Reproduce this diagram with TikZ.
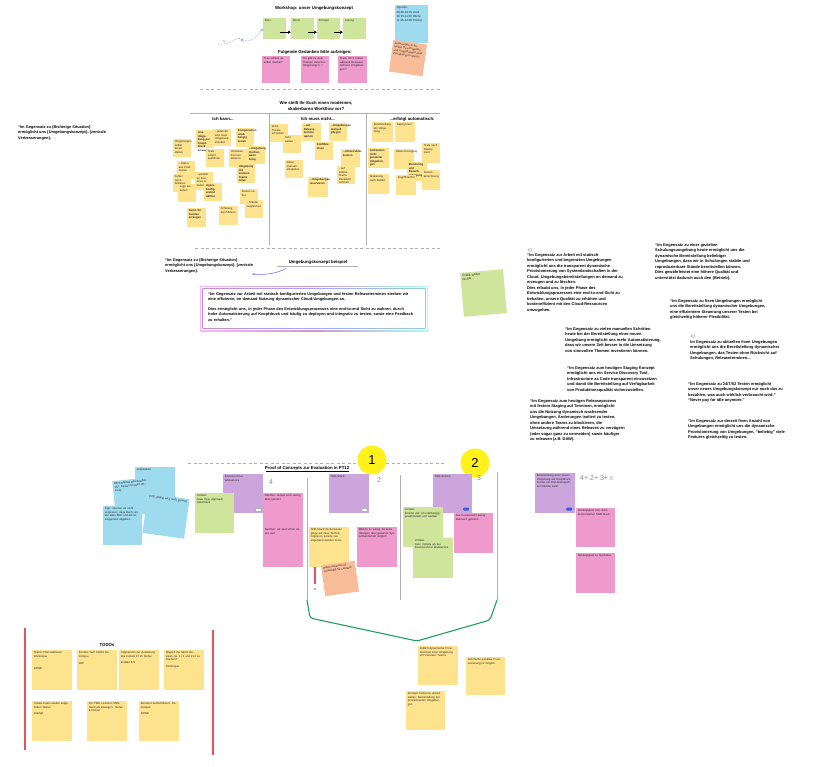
\documentclass[tikz,border=0pt]{standalone}
\usepackage{fontspec}
\setmainfont{Liberation Sans}
\usetikzlibrary{arrows.meta,calc}
\definecolor{yel}{HTML}{FDE38E}
\definecolor{grn}{HTML}{CFE59B}
\definecolor{pnk}{HTML}{EE9ACC}
\definecolor{prp}{HTML}{CCA5DD}
\definecolor{blu}{HTML}{9FDBEF}
\definecolor{org}{HTML}{F8BD98}
\definecolor{circ}{HTML}{FFF21A}
\definecolor{redl}{HTML}{E8505B}
\definecolor{grnl}{HTML}{1BA35B}
\definecolor{gryl}{HTML}{B0B0B0}
\definecolor{tagb}{HTML}{3B5BDB}
\tikzset{
  stickybox/.style={rectangle,draw=none,inner sep=0pt},
  stickytext/.style={inner sep=1.8pt,align=left,font=\fontsize{2.8}{3.5}\selectfont,text=black!85},
  quote/.style={font=\bfseries\fontsize{4.0}{5.5}\selectfont,align=left,inner sep=0pt},
  head/.style={font=\bfseries\fontsize{4.3}{5.4}\selectfont,align=center,inner sep=0pt},
  sep/.style={draw=gryl,line width=0.8pt},
  dsep/.style={draw=gryl,line width=0.7pt,dash pattern=on 3pt off 2.5pt},
  bigarrow/.style={-{Stealth[length=3pt,width=3.5pt]},line width=1.1pt,black},
  hand/.style={font=\fontsize{7}{7}\selectfont,text=black!45,inner sep=0pt}
}
% #1 rotation, #2 name, #3 colour, #4 x, #5 y (top left), #6 w, #7 h, #8 text
\newcommand\stk[8][0]{%
  \pgfmathsetmacro\stkw{#6-3.6}%
  \begin{scope}[shift={(#4+#6/2,#5+#7/2)},rotate=#1,transform shape]
    \node[stickybox,fill=#3,minimum width=#6pt,minimum height=#7pt] (#2) at (0,0) {};
    \node[stickytext,text width=\stkw pt,anchor=north west] at (#2.north west) {#8};
  \end{scope}}
\begin{document}
\begin{tikzpicture}[x=1pt,y=-1pt]
\useasboundingbox[fill=white] (0,0) rectangle (813,767);

% ================= TOP: workshop =================
\node[head] (wtitle) at (314,8) {Workshop: unser Umgebungskonzept};
\stk{g1}{grn}{263}{18}{23}{21}{Ziele}
\stk{g2}{grn}{291}{18}{23}{21}{Werte}
\stk{g3}{grn}{317}{18}{23}{21}{Konzept}
\stk{g4}{grn}{343}{18}{23}{21}{Lösung}
\draw[bigarrow] ($(g1.south east)+(-6,-7)$) -- ($(g2.south west)+(0,-7)$);
\draw[bigarrow] ($(g2.south east)+(-6,-7)$) -- ($(g3.south west)+(0,-7)$);
\draw[bigarrow] ($(g3.south east)+(-6,-7)$) -- ($(g4.south west)+(0,-7)$);
\coordinate (doodle) at (218,44);
\draw[blue!45,line width=0.6pt,densely dotted,-{Stealth[length=3pt]}] (doodle) .. controls (232,46) and (236,34) .. (243,40) .. controls (250,44) and (258,36) .. (g1.west);
\node[blue!50,font=\fontsize{4}{4}\selectfont] at (224,42) {\textbf{\^{}}};
\node[blue!50,font=\bfseries\fontsize{6}{6}\selectfont] at (242,41) {\^{}};
\stk{agenda}{blu}{395}{5}{33}{38}{\fontsize{2.9}{3.8}\selectfont Agenda:\\[1.2pt]09:00-10:15 Ziele\\10:15-11:00 Werte\\11:15-12:00 Prinzip}
\stk[-8]{orgnote}{org}{391}{42}{34}{32}{Änderungen in aktuellen Dev-Projekten und Umgebungen über Zuordnung im Shop?}
\node[head] (ftitle) at (315,52) {Folgende Gedanken bitte aufzeigen:};
\stk{p1}{pnk}{262}{56}{28}{27}{“Das solltest du selbst machen”}
\stk{p2}{pnk}{301}{56}{28}{27}{“Es gibt zu viele Themen zwischen Umgebungen...”}
\stk{p3}{pnk}{338}{56}{29}{27}{“Kann ich X haben während Releases mehrere Umgebungen?”}
\draw[dsep] (200,89) -- (442,89);

% ================= MIDDLE: workflow =================
\node[head] (mtitle) at (316,106) {Wie stellt Ihr Euch einen modernen,\\skalierbaren Workflow vor?};
\draw[sep] (190,113) -- (440,113);
\draw[sep] (269,113) -- (269,245);
\draw[sep] (366,113) -- (366,245);
\node[head] (h1) at (223,119) {Ich kann...};
\node[head] (h2) at (318,119) {Ich muss nicht...};
\node[head] (h3) at (412,119) {...erfolgt automatisch.};
% column 1
\stk{c1}{yel}{173}{139}{18}{18}{Umgebungen selbst bereitstellen}
\stk{c2}{yel}{196}{130}{18}{18}{\textbf{eine Umgebung per Knopfdruck erzeugen}}
\stk{c3}{yel}{213}{129}{18}{17}{...jederzeit eine neue Umgebung erstellen}
\stk{c4}{yel}{236}{128}{18}{19}{\textbf{Komponenten unabhängig testen}}
\stk{c5}{yel}{206}{149}{18}{18}{Tests isoliert ausführen}
\stk{c6}{yel}{229}{149}{18}{18}{Versionen frei kombinieren}
\stk{c7}{yel}{247}{146}{18}{18}{\textbf{...Umgebung löschen, wenn fertig}}
\stk{c8}{yel}{177}{161}{18}{18}{...Daten aus Prod. nutzen}
\stk{c9}{yel}{173}{174}{18}{18}{Fehler reproduzieren}
\stk{c10}{yel}{195}{172}{18}{18}{...parallel an Features arbeiten}
\stk{c11}{yel}{178}{184}{18}{18}{Logs einsehen}
\stk{c12}{yel}{204}{183}{18}{18}{\textbf{eigene Konfiguration wählen}}
\stk{c13}{yel}{237}{164}{18}{19}{\textbf{Umgebung mit anderen Teams teilen}}
\stk{c14}{yel}{240}{189}{18}{15}{Kosten sehen}
\stk{c15}{yel}{245}{200}{18}{18}{...Stände vergleichen}
\stk{c16}{yel}{187}{208}{19}{19}{\textbf{Demo für Kunden erzeugen}}
\stk{c17}{yel}{219}{206}{19}{19}{Schulung durchführen}
% column 2
\stk{d1}{yel}{270}{124}{18}{18}{keine Tickets schreiben}
\stk{d2}{yel}{283}{135}{18}{18}{nicht warten}
\stk{d3}{yel}{302}{123}{19}{18}{\textbf{...auf Release\-termine warten}}
\stk{d4}{yel}{329}{123}{18}{18}{\textbf{...Umgebungen manuell pflegen}}
\stk{d5}{yel}{315}{142}{18}{18}{\textbf{Konflikte lösen}}
\stk{d6}{yel}{341}{149}{19}{18}{\textbf{...Infrastruktur kennen}}
\stk{d7}{yel}{285}{160}{18}{18}{Daten manuell einspielen}
\stk{d8}{yel}{337}{166}{18}{18}{...auf andere Teams Rücksicht nehmen}
\stk{d9}{yel}{308}{177}{20}{20}{\textbf{...Umgebungen reservieren}}
% column 3
\stk{e1}{yel}{372}{122}{21}{20}{Bereitstellung der Umgebung}
\stk{e2}{yel}{395}{122}{20}{20}{Deployment}
\stk{e3}{yel}{368}{148}{21}{20}{\textbf{Aufräumen nicht genutzter Umgebungen}}
\stk{e4}{yel}{394}{149}{20}{20}{Datenversorgung}
\stk{e5}{yel}{422}{143}{18}{20}{Tests nach Deployment}
\stk{e6}{yel}{407}{162}{20}{19}{\textbf{Monitoring und Benach\-richtigung}}
\stk{e7}{yel}{368}{174}{21}{20}{Skalierung nach Bedarf}
\stk{e8}{yel}{396}{175}{20}{20}{Zugriffsrechte}
\stk{e9}{yel}{422}{170}{18}{20}{Kosten\-abrechnung}
\node[quote,font=\bfseries\fontsize{3.9}{5.5}\selectfont,anchor=north west] (lq1) at (18,125) {“Im Gegensatz zu \{Bisherige Situation\}\\ermöglicht uns \{Umgebungskonzept\}, \{zentrale\\Verbesserungen\}.};
\draw[dsep] (195,248) -- (442,248);

% ================= example =================
\node[quote,font=\bfseries\fontsize{3.9}{5.5}\selectfont,anchor=north west] (lq2) at (165,258) {“Im Gegensatz zu \{Bisherige Situation\}\\ermöglicht uns \{Umgebungskonzept\}, \{zentrale\\Verbesserungen\}.};
\node[head] (ubsp) at (318,262) {Umgebungskonzept beispiel};
\draw[draw=gryl,line width=0.8pt] (277,266) -- (358,266);
\coordinate (arrEnd) at (252,274);
\draw[blue!55,line width=0.6pt,-{Stealth[length=3pt]}] (286,268.5) .. controls (276,274) and (264,275) .. (arrEnd);
\shade[left color=magenta!30,right color=cyan!35,middle color=violet!40] (200,286) rectangle (428,331);
\fill[white] (200.9,286.9) rectangle (427.1,330.1);
\shade[left color=violet!45,right color=teal!40,middle color=blue!35] (202.3,288.3) rectangle (425.7,328.7);
\fill[white] (203,289) rectangle (425,328);
\node[quote,font=\bfseries\fontsize{3.9}{5.5}\selectfont,anchor=north west,text width=205pt] (rq) at (208,292) {“Im Gegensatz zur Arbeit mit statisch konfigurierten Umgebungen und festen Releaseterminen streben wir eine effiziente, on demand Nutzung dynamischer Cloud-Umgebungen an.\\[4pt]Dies ermöglicht uns, in jeder Phase des Entwicklungsprozesses eine end-to-end Sicht zu wahren, durch hohe Automatisierung auf Knopfdruck und häufig zu deployen und integrativ zu testen, sowie eine Feedback zu erhalten.”};
\stk[5]{gnote}{grn}{462}{271}{43}{44}{\fontsize{3.2}{4}\selectfont Grafik weiter\\rechts...}

% ================= quotes right =================
\node[draw=black!40,fill=black!8,rounded corners=0.8pt,minimum width=4pt,minimum height=2.5pt,inner sep=0pt] (ic1) at (530,250) {};
\node[quote,anchor=north west] (q1) at (527,253) {“Im Gegensatz zur Arbeit mit statisch\\konfigurierten und begrenzten Umgebungen\\ermöglicht uns die transparent dynamische\\Provisionierung von Systemlandschaften in der\\Cloud, Umgebungsbereitstellungen on demand zu\\erzeugen und zu löschen.\\Dies erlaubt uns, in jeder Phase des\\Entwicklungsprozesses eine end-to-end Sicht zu\\behalten, unsere Qualität zu erhöhen und\\kosteneffizient mit den Cloud-Ressourcen\\umzugehen.};
\node[quote,anchor=north west] (q2) at (565,327) {“Im Gegensatz zu vielen manuellen Schritten\\heute bei der Bereitstellung einer neuen\\Umgebung ermöglicht uns mehr Automatisierung,\\dass wir unsere Zeit besser in die Umsetzung\\von sinnvollen Themen investieren können.};
\node[quote,anchor=north west] (q3) at (567,366) {“Im Gegensatz zum heutigen Staging Konzept\\ermöglicht uns ein Service Discovery Tool,\\Infrastructure as Code transparent einzusetzen\\und damit die Bereitstellung auf Verfügbarkeit\\von Produktionsqualität sicherzustellen.};
\node[quote,anchor=north west] (q4) at (530,399) {“Im Gegensatz zum heutigen Releaseprozess\\mit festem Staging auf Terminen, ermöglicht\\uns die Nutzung dynamisch wachsender\\Umgebungen, Änderungen isoliert zu testen,\\ohne andere Teams zu blockieren, die\\Umsetzung während eines Releases zu verzögern\\(oder sogar ganz zu vermeiden) sowie häufiger\\zu releasen (z.B. DAW).};
\node[quote,anchor=north west] (q5) at (655,243) {“Im Gegensatz zu einer gezielten\\Schulungsumgebung heute ermöglicht uns die\\dynamische Bereitstellung beliebiger\\Umgebungen, dass wir in Schulungen stabile und\\reproduzierbare Stände bereitstellen können.\\Dies gewährleistet eine höhere Qualität und\\unterstützt dadurch auch den \{Betrieb\}.};
\node[quote,anchor=north west] (q6) at (670,299) {“Im Gegensatz zu fixen Umgebungen ermöglicht\\uns die Bereitstellung dynamischer Umgebungen,\\eine effizientere Steuerung unserer Testen bei\\gleichzeitig höherer Flexibilität.};
\node[draw=black!40,fill=black!8,rounded corners=0.8pt,minimum width=4pt,minimum height=2.5pt,inner sep=0pt] (ic2) at (693,336) {};
\node[quote,anchor=north west] (q7) at (690,340) {Im Gegensatz zu aktuellen fixen Umgebungen\\ermöglicht uns die Bereitstellung dynamischer\\Umgebungen, das Testen ohne Rücksicht auf\\Schulungen, Releaseterminen...};
\node[quote,anchor=north west] (q8) at (688,382) {“Im Gegensatz zu 24/7/52 Testen ermöglicht\\unser neues Umgebungskonzept nur noch das zu\\bezahlen, was auch wirklich verbraucht wird.”\\“Never pay for idle anymore.”};
\node[quote,anchor=north west] (q9) at (688,419) {“Im Gegensatz zur derzeit fixen Anzahl von\\Umgebungen ermöglicht uns die dynamische\\Provisionierung von Umgebungen, “beliebig” viele\\Features gleichzeitig zu testen.};

% ================= BOTTOM: PoC =================
\draw[dsep] (188,463) -- (445,463);
\node[circle,fill=circ,minimum size=29pt,inner sep=0pt,font=\fontsize{13}{13}\selectfont] (n1) at (372,460) {1};
\node[circle,fill=circ,minimum size=29pt,inner sep=0pt,font=\fontsize{13}{13}\selectfont] (n2) at (475,463) {2};
\node[head] (ptitle) at (307,468) {Proof of Concepts zur Evaluation in PT12};
\draw[black,line width=0.5pt] (266,471.5) -- (349,471.5);
\draw[sep] (307,478) -- (307,600);
\draw[sep] (400,475) -- (400,600);
\draw[sep] (497,472) -- (497,600);
\draw[grnl,line width=1.1pt,rounded corners=3pt] (307,600) -- (310,618) -- (417,641) -- (490,620) -- (497,600);

\stk{k1}{prp}{223}{474}{40}{39}{Kostenrechner\\Webservice}
\node[fill=white,draw=black!30,minimum width=6pt,minimum height=3pt,inner sep=0pt] (t1) at ($(k1.south east)+(-5,-4)$) {};
\node[hand] (num4) at (271,482) {4};
\stk{k2}{prp}{329}{474}{40}{39}{SNB-Stack}
\node[fill=white,draw=black!30,minimum width=6pt,minimum height=3pt,inner sep=0pt] (t2) at ($(k2.south east)+(-5,-4)$) {};
\node[hand] (num2) at (379,480) {2};
\stk{k3}{prp}{433}{474}{39}{39}{SSB-Service}
\node[fill=tagb,rounded corners=1pt,minimum width=6pt,minimum height=3pt,inner sep=0pt] (t3) at ($(k3.south east)+(-6,-4)$) {};
\node[hand] (num3) at (479,478) {3};
\stk{k4}{prp}{535}{473}{40}{40}{Bereitstellung einer neuen Umgebung auf Knopfdruck, mit der ein Domänenwechsel machen kann.}
\node[fill=tagb,rounded corners=1pt,minimum width=6pt,minimum height=3pt,inner sep=0pt] (t4) at ($(k4.south east)+(-6,-4)$) {};
\node[hand,anchor=west] (score) at (580,478) {4+ 2+ 3\textcolor{redl}{+}\textcolor{redl}{\textbf{$\times$}}};

\stk{v1}{grn}{195}{493}{39}{40}{Vorteile:\\Java, Cpp, Approach, Datenbank}
\stk{v2}{grn}{403}{507}{40}{40}{Vorteile:\\bereitet viel, ist unabhängig, gewährleistet und wartbar}
\stk{v3}{grn}{413}{538}{40}{40}{Vorteile:\\mehr Vorteile als bei Kostenrechner Webservice}
\stk{n1a}{pnk}{263}{493}{40}{34}{Nachteil: aktuell noch wenig aktiv genutzt}
\stk{n1b}{pnk}{263}{527}{40}{40}{Nachteil: wir sind schon relativ weit}
\stk{n2a}{pnk}{357}{527}{40}{40}{Effektiv zu wenig, da keine Übungen über gesamte Systemlandschaft möglich}
\stk{n3a}{pnk}{454}{513}{39}{40}{Aus Kundensicht wenig Mehrwert geboten}
\stk{n4a}{pnk}{576}{508}{39}{39}{Abhängigkeit zum nicht-dockerisierten SNB-Stack}
\stk{n4b}{pnk}{576}{553}{39}{40}{Abhängigkeit zu Spartakus}
\stk{y2}{yel}{309}{527}{40}{40}{SNB-Stack dockerisieren ginge auf neue Technik migrieren, konnte neu angepasst werden muss}
\stk[8]{o2}{org}{323}{563}{34}{31}{Daten auslesen ist notwendig für Leerlauf}
\draw[redl,line width=1.3pt] (315,567) -- (315,584);
\fill[redl] (315,589) circle (1pt);

% blue notes
\stk{b1}{blu}{135}{467}{40}{34}{Leitplanken}
\stk[6]{b2}{blu}{114}{479}{40}{36}{DEV-Objekte bereitstellen inkl. Kosten (Kosten ID / Jura)}
\stk[-8]{b3}{blu}{145}{496}{42}{40}{POC-Objekt wird nicht genutzt}
\stk{b4}{blu}{103}{506}{39}{39}{Tipp: müssen wir nicht vergessen, dass Bach von der alten BSP und die ist eingepreist abgeben}

% ================= TODOs =================
\draw[redl,line width=1.4pt] (25,628) -- (25,750);
\draw[redl,line width=1.4pt] (213,630) -- (213,755);
\node[head] (todo) at (107,645) {TODOs};
\stk{t01}{yel}{32}{650}{40}{40}{Teams Chat etablieren\\Dominique\\[9pt]DONE}
\stk{t02}{yel}{77}{650}{40}{40}{Kunden Tech KROS Dominique\\[4pt]WIP}
\stk{t03}{yel}{119}{650}{40}{40}{Folgetermin zur Auslastung des Invitars PI 1h Stefan\\[3pt]kontakt E.S.}
\stk{t04}{yel}{164}{650}{40}{40}{Möglich die Sprint Reviews zw. 11:1 und 11:2 zu machen?\\[3pt]Dominique}
\stk{t05}{yel}{32}{701}{40}{40}{Tickets Paste wieder aufgehoben Stefan\\[3pt]erledigt}
\stk{t06}{yel}{87}{701}{40}{40}{Für PMO Lizenzen SNB-Stack als bewegen: Stefan \& Florian}
\stk{t07}{yel}{139}{701}{40}{40}{Benutzer authentifiziert: Dominique\\[3pt]DONE}

% ================= bottom notes =================
\stk{z1}{yel}{418}{646}{40}{39}{Zeitlich dynamische Provisionieren einer Umgebung mit “mehrere” Teams}
\stk{z2}{yel}{466}{657}{39}{38}{mehrfache parallele Provisionierung ist möglich}
\stk{z3}{yel}{406}{691}{39}{39}{Konzept Sorbonne aktuell stellen: Bereitstellung der provisionierten Umgebungen}
\end{tikzpicture}
\end{document}
